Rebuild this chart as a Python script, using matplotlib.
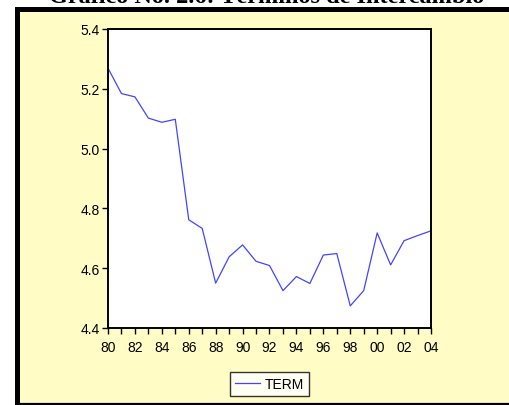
import matplotlib.pyplot as plt
from matplotlib.patches import Rectangle
from matplotlib.ticker import MultipleLocator, FuncFormatter

# Terms of trade, annual 1980-2004
years = list(range(1980, 2005))
term = [5.269, 5.184, 5.173, 5.102, 5.088, 5.098, 4.762, 4.733, 4.550, 4.638,
        4.678, 4.623, 4.609, 4.525, 4.572, 4.549, 4.644, 4.649, 4.474, 4.525,
        4.718, 4.611, 4.692, 4.709, 4.725]
title = "Gráfico No. 2.6: Términos de Intercambio"

W, H = 510, 406
fig = plt.figure(figsize=(W / 100, H / 100), dpi=100)
fig.patch.set_facecolor("white")

# yellow frame with black border (top/left thick, bottom thin)
fig.patches.append(Rectangle((16 / W, 0), 1, 1 - 9 / H, transform=fig.transFigure,
                             facecolor="#FFFDC5", edgecolor="none", zorder=-5))
fig.add_artist(plt.Line2D([16.5 / W, 1], [1 - 9.5 / H, 1 - 9.5 / H], color="black",
                          lw=3.6, transform=fig.transFigure))
fig.add_artist(plt.Line2D([16.5 / W, 16.5 / W], [0, 1 - 9.5 / H], color="black",
                          lw=3.6, transform=fig.transFigure))
fig.add_artist(plt.Line2D([16.5 / W, 1], [1 / H, 1 / H], color="black",
                          lw=1.6, transform=fig.transFigure))

# title, mostly cut off at the top as in the scanned original
fig.text(267 / W, 1 - 3 / H, title, ha="center", va="baseline",
         fontsize=17.5, fontweight="bold", family="Liberation Serif")

ax = fig.add_axes([108 / W, 1 - 329 / H, 323 / W, 299 / H])
ax.set_facecolor("white")
ax.plot(years, term, color="#4444FF", lw=0.9, label="TERM")

ax.set_xlim(1980, 2004)
ax.set_ylim(4.4, 5.4)
ax.xaxis.set_major_locator(MultipleLocator(2))
ax.xaxis.set_minor_locator(MultipleLocator(1))
ax.yaxis.set_major_locator(MultipleLocator(0.2))
ax.xaxis.set_major_formatter(FuncFormatter(lambda v, p: f"{int(round(v)) % 100:02d}"))
ax.yaxis.set_major_formatter(FuncFormatter(lambda v, p: f"{v:.1f}"))
ax.tick_params(axis="both", direction="out", length=4, width=1, color="black",
               labelsize=10, pad=2)
ax.tick_params(axis="x", which="major", pad=5)
ax.tick_params(axis="x", which="minor", direction="out", length=4, width=1)
for lab in ax.get_xticklabels() + ax.get_yticklabels():
    lab.set_family("Liberation Sans")
for s in ax.spines.values():
    s.set_linewidth(1.4)

leg = fig.legend(loc="center", bbox_to_anchor=(269.5 / W, 1 - 385 / H),
                 frameon=True, fancybox=False, handlelength=1.8,
                 borderpad=0.35, handletextpad=0.3,
                 prop={"family": "Liberation Sans", "size": 10})
leg.get_frame().set_edgecolor("black")
leg.get_frame().set_linewidth(1.0)
leg.get_frame().set_facecolor("white")

fig.savefig("out.png", dpi=100)
